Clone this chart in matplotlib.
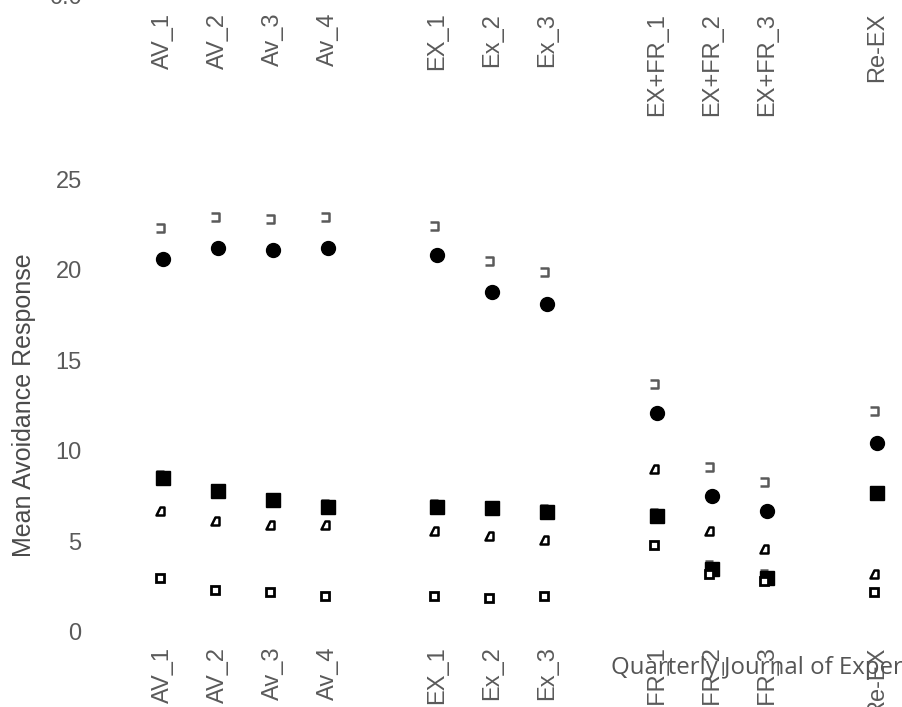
import matplotlib
matplotlib.use("Agg")
import matplotlib.pyplot as plt
from matplotlib.path import Path
from matplotlib.transforms import offset_copy

# category labels (gaps between phases)
labels = ["AV_1", "AV_2", "Av_3", "Av_4", "EX_1", "Ex_2", "Ex_3",
          "EX+FR_1", "EX+FR_2", "EX+FR_3", "Re-EX"]
xpos = [0, 1, 2, 3, 5, 6, 7, 9, 10, 11, 13]

# group means
circles = [20.6, 21.2, 21.1, 21.2, 20.8, 18.8, 18.1, 12.1, 7.5, 6.7, 10.45]
circle_err = [22.3, 22.9, 22.8, 22.9, 22.4, 20.5, 19.9, 13.7, 9.1, 8.3, 12.2]
squares = [8.5, 7.8, 7.3, 6.9, 6.9, 6.85, 6.65, 6.4, 3.5, 3.0, 7.65]
square_err = [8.9, 8.1, 7.6, 7.3, 7.3, 7.2, 7.0, 6.8, 3.9, 3.4, 8.0]
tri = [6.7, 6.1, 5.9, 5.9, 5.6, 5.3, 5.1, 9.0, 5.6, 4.6, 3.2]
open_sq = [3.0, 2.3, 2.2, 2.0, 2.0, 1.9, 2.0, 4.8, 3.2, 2.8, 2.2]

gray = "#5a5a5a"
plt.rcParams['font.family'] = ['Liberation Sans', 'DejaVu Sans']

cap = Path([(-1, 1), (1, 1), (1, -1), (-1, -1)],
           [Path.MOVETO, Path.LINETO, Path.LINETO, Path.LINETO])
small_cap = Path([(-1, 0), (1, 0)], [Path.MOVETO, Path.LINETO])
wedge = Path([(-1, -1), (1, -1), (1, 1), (0, 1), (-1, -1)],
             [Path.MOVETO, Path.LINETO, Path.LINETO, Path.LINETO, Path.CLOSEPOLY])

fig = plt.figure(figsize=(9.03, 7.07), dpi=100)

# lower panel
ax = fig.add_axes([0.1074, 0.0934, 0.894, 0.6658])
ax.set_xlim(-1.2, 13.5)
ax.set_ylim(-0.5, 25.5)

left = offset_copy(ax.transData, fig=fig, x=-3, y=0, units='dots')
ax.plot(xpos, circle_err, ls='none', marker=cap, ms=6, mew=1.8,
        mec=gray, fillstyle='none', transform=left)
ax.plot(xpos, square_err, ls='none', marker=small_cap, ms=6, mew=1.8,
        mec=gray, transform=left)
ax.plot(xpos, circles, ls='none', marker='o', ms=10, color='black')
ax.plot(xpos, squares, ls='none', marker='s', ms=9.5, color='black')
ax.plot(xpos, tri, ls='none', marker=wedge, ms=5.5, mew=1.8,
        mec='black', mfc='white', transform=left)
ax.plot(xpos, open_sq, ls='none', marker='s', ms=5.5, mew=2,
        mec='black', mfc='white', transform=left)

ax.set_xticks(xpos)
ax.set_xticklabels(labels, rotation=90, fontsize=17, color=gray)
ax.set_yticks([0, 5, 10, 15, 20, 25])
ax.tick_params(axis='both', length=0, labelsize=17, labelcolor=gray)
ax.tick_params(axis='x', pad=4)
ax.tick_params(axis='y', pad=11)
ax.set_ylabel("Mean Avoidance Response", fontsize=18, color="#4a4a4a",
              labelpad=14)
for s in ax.spines.values():
    s.set_visible(False)

# upper panel, only its tick labels remain visible
ax2 = fig.add_axes([0.1074, 1.0057, 0.894, 0.3])
ax2.set_xlim(-1.2, 13.5)
ax2.set_ylim(0, 1)
ax2.set_xticks(xpos)
ax2.set_xticklabels(labels, rotation=90, fontsize=17, color=gray)
ax2.set_yticks([0])
ax2.set_yticklabels(["0.0"])
ax2.tick_params(axis='both', length=0, labelsize=17, labelcolor=gray)
ax2.tick_params(axis='x', pad=12)
ax2.tick_params(axis='y', pad=11)
for s in ax2.spines.values():
    s.set_visible(False)

fig.text(0.677, 0.047, "Quarterly Journal of Experimental Psychology",
         fontsize=17.3, color="#555555", family="Open Sans")

fig.savefig("out.png", dpi=100)
